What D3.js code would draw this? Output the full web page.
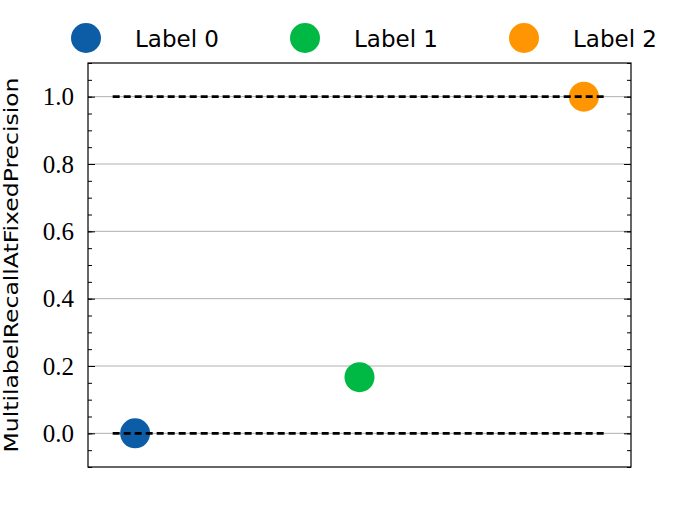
<!DOCTYPE html>
<html><head><meta charset="utf-8">
<script src="https://cdn.jsdelivr.net/npm/d3@7"></script>
<style>body{margin:0;background:#fff}</style>
</head><body>
<svg id="chart" width="700" height="525"></svg>
<script>
const labels = ["Label 0", "Label 1", "Label 2"];
const xs = [0, 1, 2];
const values = [0.0, 0.1667, 1.0];
const colors = ["#0C5DA5", "#00B945", "#FF9500"];
const refLines = [0.0, 1.0];
const yTicks = [0.0, 0.2, 0.4, 0.6, 0.8, 1.0];
const yMinor = d3.range(-0.1, 1.101, 0.05);
const yLabel = "MultilabelRecallAtFixedPrecision";

const svg = d3.select("#chart");
const L = 88, R = 631, T = 63, B = 467;
const x = d3.scaleLinear().domain([-0.21, 2.21]).range([L, R]);
const y = d3.scaleLinear().domain([-0.1, 1.1]).range([B, T]);

// grid
svg.append("g").selectAll("line").data(yTicks).join("line")
  .attr("x1", L).attr("x2", R).attr("y1", d => y(d)).attr("y2", d => y(d))
  .attr("stroke", "#b0b0b0").attr("stroke-width", 1);

// points
svg.append("g").selectAll("circle").data(xs).join("circle")
  .attr("cx", (d) => x(d)).attr("cy", (d, i) => y(values[i])).attr("r", 15)
  .attr("fill", (d, i) => colors[i]);

// dashed reference lines
svg.append("g").selectAll("line").data(refLines).join("line")
  .attr("x1", x(-0.1)).attr("x2", x(2.1)).attr("y1", d => y(d)).attr("y2", d => y(d))
  .attr("stroke", "#000").attr("stroke-width", 2.6).attr("stroke-dasharray", "7,4");

// axes: major & minor ticks inside on left and right
svg.append("g").attr("transform", `translate(${L},0)`)
  .call(d3.axisRight(y).tickValues(yMinor).tickSize(4).tickFormat(""));
svg.append("g").attr("transform", `translate(${L},0)`)
  .call(d3.axisRight(y).tickValues(yTicks).tickSize(7).tickFormat(""));
svg.append("g").attr("transform", `translate(${R},0)`)
  .call(d3.axisLeft(y).tickValues(yMinor).tickSize(4).tickFormat(""));
svg.append("g").attr("transform", `translate(${R},0)`)
  .call(d3.axisLeft(y).tickValues(yTicks).tickSize(7).tickFormat(""));
svg.selectAll(".domain").remove();
svg.selectAll(".tick line").attr("stroke", "#000").attr("stroke-width", 1);

// tick labels
const axLab = svg.append("g").attr("transform", `translate(${L},0)`)
  .call(d3.axisLeft(y).tickValues(yTicks).tickSize(0).tickPadding(14).tickFormat(d3.format(".1f")));
axLab.select(".domain").remove();
axLab.selectAll("text").attr("font-family", "'Liberation Serif', serif").attr("font-size", 25).attr("fill", "#000");

// frame
svg.append("rect").attr("x", L).attr("y", T).attr("width", R - L).attr("height", B - T)
  .attr("fill", "none").attr("stroke", "#000").attr("stroke-width", 1.2);

// y label
svg.append("text").attr("transform", `translate(18,${(T + B) / 2}) rotate(-90)`)
  .attr("text-anchor", "middle").attr("font-family", "'DejaVu Sans', sans-serif")
  .attr("font-size", 20).attr("textLength", 375).attr("lengthAdjust", "spacingAndGlyphs")
  .text(yLabel);

// legend
const lg = svg.append("g").selectAll("g").data(labels).join("g")
  .attr("transform", (d, i) => `translate(${86 + i * 219},38)`);
lg.append("circle").attr("r", 15).attr("fill", (d, i) => colors[i]);
lg.append("text").attr("x", 49).attr("y", 9).attr("font-family", "'DejaVu Sans', sans-serif")
  .attr("font-size", 23).text(d => d);
</script>
</body></html>
